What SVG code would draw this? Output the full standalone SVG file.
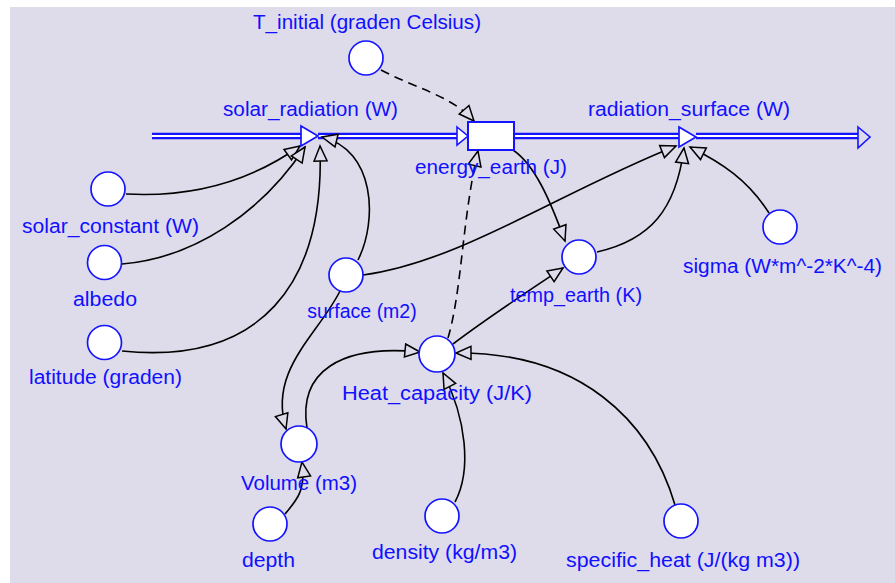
<svg xmlns="http://www.w3.org/2000/svg" width="895" height="583" viewBox="0 0 895 583">
<style>
.bg{fill:#dedbeb}
.aux circle{fill:#fff;stroke:#1414ff;stroke-width:1.7}
text{font-family:"Liberation Sans",Arial,sans-serif;font-size:19.5px;fill:#1010ff;text-anchor:middle}
.link{fill:none;stroke:#000;stroke-width:1.6}
.dash{stroke-dasharray:9 6}
.pipe{fill:none;stroke:#1414ff;stroke-width:6.5}
.pipein{fill:none;stroke:#fff;stroke-width:2}
.valve{fill:#fff;stroke:#1414ff;stroke-width:1.7}
</style>
<defs>
<marker id="ah" markerUnits="userSpaceOnUse" markerWidth="20" markerHeight="16" viewBox="-17 -8 20 16" refX="0" refY="0" orient="auto">
<path d="M0,0 L-15,-6.5 L-15,6.5 Z" fill="#dedbeb" stroke="#000" stroke-width="1.5"/>
</marker>
</defs>
<rect x="0" y="0" width="895" height="583" fill="#fff"/>
<rect class="bg" x="10" y="7" width="885" height="576"/>

<g id="flows">
<path class="pipe" d="M152,136 H302 M318,136 H458 M514,136 H680 M696,136 H860"/>
<path class="pipein" d="M152,136 H302 M318,136 H458 M514,136 H680 M696,136 H860"/>
<path d="M457,127 L468,136 L457,145 Z" fill="#fff" stroke="#1414ff" stroke-width="1.6"/>
<path d="M858,127 L870,137 L858,148 Z" fill="#dedbeb" stroke="#1414ff" stroke-width="1.6"/>
</g>

<g id="connectors">
<path class="link" d="M126,194 C200,198 255,178 300,146" marker-end="url(#ah)"/>
<path class="link" d="M122,264 C195,258 262,212 305,147" marker-end="url(#ah)"/>
<path class="link" d="M122,351 C260,365 325,285 320,146" marker-end="url(#ah)"/>
<path class="link" d="M358,260 C378,220 375,150 322,137" marker-end="url(#ah)"/>
<path class="link dash" d="M381,70 C415,88 452,96 474,121" marker-end="url(#ah)"/>
<path class="link dash" d="M448,338 C462,290 462,220 478,151" marker-end="url(#ah)"/>
<path class="link" d="M513,150 C535,165 550,200 565,241" marker-end="url(#ah)"/>
<path class="link" d="M363,275 C460,262 560,192 676,146" marker-end="url(#ah)"/>
<path class="link" d="M597,252 C650,240 676,210 684,148" marker-end="url(#ah)"/>
<path class="link" d="M769,213 C748,180 722,163 690,147" marker-end="url(#ah)"/>
<path class="link" d="M453,344 C490,316 530,290 563,268" marker-end="url(#ah)"/>
<path class="link" d="M340,291 C318,335 268,370 286,429" marker-end="url(#ah)"/>
<path class="link" d="M307,428 C298,372 340,344 420,352" marker-end="url(#ah)"/>
<path class="link" d="M455,502 C472,470 466,418 443,373" marker-end="url(#ah)"/>
<path class="link" d="M675,505 C650,420 580,352 456,353" marker-end="url(#ah)"/>
<path class="link" d="M285,514 C297,500 306,490 302,462" marker-end="url(#ah)"/>
</g>

<g id="solar_radiation">
<path class="valve" d="M301,126 L301,146 L318,136 Z"/>
<text x="310.5" y="116" textLength="175" lengthAdjust="spacingAndGlyphs">solar_radiation (W)</text>
</g>
<g id="radiation_surface">
<path class="valve" d="M679,127 L679,147 L696,137 Z"/>
<text x="689" y="116" textLength="202" lengthAdjust="spacingAndGlyphs">radiation_surface (W)</text>
</g>
<g id="energy_earth">
<rect x="468" y="122" width="46" height="28" fill="#fff" stroke="#1414ff" stroke-width="2"/>
<text x="491" y="174" textLength="152" lengthAdjust="spacingAndGlyphs">energy_earth (J)</text>
</g>

<g id="T_initial" class="aux">
<circle cx="366" cy="58" r="17"/>
<text x="367" y="29" textLength="228" lengthAdjust="spacingAndGlyphs">T_initial (graden Celsius)</text>
</g>
<g id="solar_constant" class="aux">
<circle cx="108" cy="189" r="17"/>
<text x="110.5" y="233" textLength="177" lengthAdjust="spacingAndGlyphs">solar_constant (W)</text>
</g>
<g id="albedo" class="aux">
<circle cx="104.5" cy="262.5" r="17"/>
<text x="105" y="306" textLength="64" lengthAdjust="spacingAndGlyphs">albedo</text>
</g>
<g id="latitude" class="aux">
<circle cx="104.5" cy="342.5" r="17"/>
<text x="105.5" y="384" textLength="153" lengthAdjust="spacingAndGlyphs">latitude (graden)</text>
</g>
<g id="surface" class="aux">
<circle cx="346" cy="275" r="17"/>
<text x="362" y="318">surface (m2)</text>
</g>
<g id="temp_earth" class="aux">
<circle cx="579" cy="257" r="17"/>
<text x="576" y="302" textLength="132" lengthAdjust="spacingAndGlyphs">temp_earth (K)</text>
</g>
<g id="sigma" class="aux">
<circle cx="780" cy="227" r="17"/>
<text x="782.5" y="273" textLength="199" lengthAdjust="spacingAndGlyphs">sigma (W*m^-2*K^-4)</text>
</g>
<g id="Heat_capacity" class="aux">
<circle cx="437" cy="354" r="18"/>
<text x="437" y="400" textLength="190" lengthAdjust="spacingAndGlyphs">Heat_capacity (J/K)</text>
</g>
<g id="Volume" class="aux">
<circle cx="299" cy="444" r="18"/>
<text x="299" y="490" textLength="116" lengthAdjust="spacingAndGlyphs">Volume (m3)</text>
</g>
<g id="depth" class="aux">
<circle cx="270" cy="524" r="17"/>
<text x="268.5" y="567" textLength="53" lengthAdjust="spacingAndGlyphs">depth</text>
</g>
<g id="density" class="aux">
<circle cx="442" cy="516" r="17"/>
<text x="444.5" y="559" textLength="145" lengthAdjust="spacingAndGlyphs">density (kg/m3)</text>
</g>
<g id="specific_heat" class="aux">
<circle cx="681" cy="521" r="17"/>
<text x="683" y="567" textLength="234" lengthAdjust="spacingAndGlyphs">specific_heat (J/(kg m3))</text>
</g>
</svg>
